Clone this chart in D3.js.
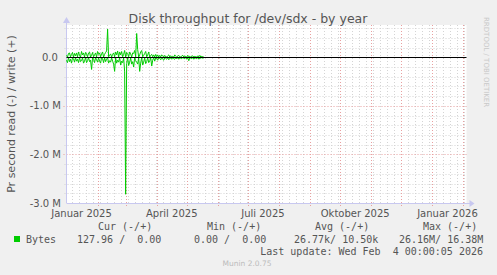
<!DOCTYPE html>
<html lang="de"><head>
<meta charset="utf-8">
<title>Disk throughput for /dev/sdx - by year</title>
<script src="https://cdn.jsdelivr.net/npm/d3@7/dist/d3.min.js"></script>
<style>
body { margin: 0; background: #f0f0f0; }
text { font-family: "DejaVu Sans", sans-serif; }
.mono { font-family: "DejaVu Sans Mono", monospace; white-space: pre; }
</style>
</head>
<body>
<script type="text/javascript">

// daily averages from 2025-01-01, in kB/s
var writeK = [40,5,80,90,10,60,100,5,80,30,
    90,10,110,40,5,120,50,90,5,100,
    70,10,90,110,5,40,100,10,50,90,
    5,120,60,90,10,70,110,5,60,100,
    130,580,10,40,70,5,60,90,10,110,
    50,130,5,110,50,120,10,60,140,5,
    100,80,10,110,70,5,90,80,140,10,
    490,160,5,50,110,140,10,40,80,120,
    10,50,110,5,40,60,10,50,5,60,
    10,50,5,40,10,50,30,5,40,10,
    5,30,50,5,30,10,20,5,50,20,
    5,20,40,10,5,30,40,5,30,10,
    5,40,10,20,5,20,30,5,20,10,
    5,30,10,40,5,20,10,5];
var readK = [60,110,5,90,40,120,10,30,100,5,
    80,40,110,5,90,70,10,120,80,5,
    110,70,5,90,60,250,10,40,110,5,
    50,100,10,80,120,5,30,110,10,90,
    40,5,120,70,100,10,80,140,290,5,
    120,60,100,5,160,80,110,10,300,2820,
    130,5,170,100,10,140,90,200,5,70,
    100,140,10,290,120,5,160,100,10,130,
    90,5,110,70,10,180,60,5,80,10,
    30,60,5,20,50,5,40,60,10,20,
    40,5,50,20,10,40,5,30,40,10,
    30,5,40,10,20,30,5,20,30,5,
    40,10,70,5,20,30,5,40,10,20,
    30,5,40,10,20,5,20,10];

var yTicks = [0, -1e6, -2e6, -3e6];
var yTickLabels = ["0.0 ", "-1.0 M", "-2.0 M", "-3.0 M"];
var xTickLabels = ["Januar 2025", "April 2025", "Juli 2025", "Oktober 2025", "Januar 2026"];

var legendHead = ["Cur (-/+)", "Min (-/+)", "Avg (-/+)", "Max (-/+)"];
var legendVals = ["127.96 /  0.00", "0.00 /  0.00", "26.77k/ 10.50k", "26.16M/ 16.38M"];

var width = 497, height = 275;
var pLeft = 66.5, pRight = 466.5, pTop = 25, pBottom = 203;

var svg = d3.select("body").append("svg")
    .attr("width", width)
    .attr("height", height);

svg.append("rect").attr("width", width).attr("height", height).attr("fill", "#f0f0f0");

var start = new Date(2025, 0, 1);
var end = new Date(2026, 1, 4);
var x = d3.scaleTime().domain([start, end]).range([pLeft, pRight]);
var y = d3.scaleLinear().domain([-3.0e6, 0.665e6]).range([pBottom, pTop]);

svg.append("rect")
    .attr("x", pLeft).attr("y", pTop)
    .attr("width", pRight - pLeft).attr("height", pBottom - pTop)
    .attr("fill", "#ffffff");

// minor grid
var weeks = d3.timeMonday.range(start, end);
svg.selectAll(".wk").data(weeks).enter().append("line")
    .attr("x1", d => Math.round(x(d)) + 0.5).attr("x2", d => Math.round(x(d)) + 0.5)
    .attr("y1", pTop).attr("y2", pBottom + 2)
    .attr("stroke", "#d4d4d4").attr("stroke-dasharray", "1,2");

var yMinor = d3.range(-2.8e6, 0.7e6, 0.2e6).filter(v => Math.abs(Math.round(v) % 1e6) > 1);
svg.selectAll(".ym").data(yMinor).enter().append("line")
    .attr("x1", pLeft - 2).attr("x2", pRight)
    .attr("y1", d => Math.round(y(d)) + 0.5).attr("y2", d => Math.round(y(d)) + 0.5)
    .attr("stroke", "#d4d4d4").attr("stroke-dasharray", "1,2");

// major grid
var months = d3.timeMonth.range(d3.timeDay.offset(start, 1), end);
svg.selectAll(".mo").data(months).enter().append("line")
    .attr("x1", d => Math.round(x(d)) + 0.5).attr("x2", d => Math.round(x(d)) + 0.5)
    .attr("y1", pTop).attr("y2", pBottom + 3)
    .attr("stroke", "#e8a0a0").attr("stroke-dasharray", "1,2");

svg.selectAll(".yM").data([-1e6, -2e6]).enter().append("line")
    .attr("x1", pLeft - 3).attr("x2", pRight)
    .attr("y1", d => Math.round(y(d)) + 0.5).attr("y2", d => Math.round(y(d)) + 0.5)
    .attr("stroke", "#e8a0a0").attr("stroke-dasharray", "1,2");

// axes
var axisCol = "#c8c8f0";
svg.append("line").attr("x1", pLeft).attr("x2", pRight + 4)
    .attr("y1", pBottom + 0.5).attr("y2", pBottom + 0.5).attr("stroke", axisCol);
svg.append("line").attr("x1", pLeft).attr("x2", pLeft)
    .attr("y1", pBottom).attr("y2", pTop - 3).attr("stroke", axisCol);
svg.append("path").attr("d", "M" + (pRight + 3) + "," + (pBottom - 3) + "L" + (pRight + 8) + "," + (pBottom + 0.5) + "L" + (pRight + 3) + "," + (pBottom + 4) + "Z")
    .attr("fill", axisCol);
svg.append("path").attr("d", "M" + (pLeft - 3.5) + "," + (pTop - 2) + "L" + pLeft + "," + (pTop - 8) + "L" + (pLeft + 3.5) + "," + (pTop - 2) + "Z")
    .attr("fill", axisCol);

// data
var days = d3.range(writeK.length).map(i => d3.timeDay.offset(start, i));
var line = d3.line().x(d => x(d[0])).y(d => y(d[1]));
svg.append("path")
    .attr("d", line(days.map((d, i) => [d, writeK[i] * 1000])))
    .attr("fill", "none").attr("stroke", "#00cc00").attr("stroke-width", 1);
svg.append("path")
    .attr("d", line(days.map((d, i) => [d, -readK[i] * 1000])))
    .attr("fill", "none").attr("stroke", "#00cc00").attr("stroke-width", 1);

// zero line
svg.append("line").attr("x1", pLeft).attr("x2", pRight)
    .attr("y1", Math.round(y(0)) + 0.5).attr("y2", Math.round(y(0)) + 0.5)
    .attr("stroke", "#000000");

// y labels
svg.selectAll(".yl").data(yTicks).enter().append("text")
    .attr("class", "yl")
    .attr("x", 61).attr("y", d => y(d) + 3.5)
    .attr("text-anchor", "end")
    .style("white-space", "pre")
    .attr("font-size", "10px").attr("fill", "#555")
    .text((d, i) => yTickLabels[i]);

// x labels
var labelDates = d3.timeMonth.every(3).range(start, end);
svg.selectAll(".xl").data(labelDates).enter().append("text")
    .attr("x", d => x(d3.timeDay.offset(d, 15)))
    .attr("y", 216.5)
    .attr("text-anchor", "middle")
    .attr("font-size", "10px").attr("fill", "#555")
    .text((d, i) => xTickLabels[i]);

// title
svg.append("text").attr("x", 248).attr("y", 23).attr("text-anchor", "middle")
    .attr("font-size", "12.5px").attr("fill", "#555")
    .text("Disk throughput for /dev/sdx - by year");

svg.append("text")
    .attr("transform", "translate(15," + ((pTop + pBottom) / 2) + ") rotate(-90)")
    .attr("text-anchor", "middle")
    .attr("font-size", "11px").attr("fill", "#555")
    .text("Pr second read (-) / write (+)");

svg.append("text")
    .attr("transform", "translate(484,17) rotate(90)")
    .attr("font-size", "7px").attr("fill", "#c8c8c8")
    .text("RRDTOOL / TOBI OETIKER");

// legend
var headX = [98, 207, 315, 423];
svg.selectAll(".lh").data(legendHead).enter().append("text")
    .attr("class", "mono")
    .attr("x", (d, i) => headX[i]).attr("y", 230)
    .attr("font-size", "10px").attr("fill", "#555")
    .text(d => d);

svg.append("rect").attr("x", 14).attr("y", 236).attr("width", 6).attr("height", 6)
    .attr("fill", "#00cc00");
svg.append("text").attr("class", "mono").attr("x", 26).attr("y", 242.5)
    .attr("font-size", "10px").attr("fill", "#555").text("Bytes");

var valX = [77, 194, 294, 399];
svg.selectAll(".lv").data(legendVals).enter().append("text")
    .attr("class", "mono")
    .attr("x", (d, i) => valX[i]).attr("y", 242.5)
    .attr("font-size", "10px").attr("fill", "#555")
    .text(d => d);

svg.append("text").attr("class", "mono").attr("x", 483).attr("y", 254.5)
    .attr("text-anchor", "end")
    .attr("font-size", "10px").attr("fill", "#555")
    .text("Last update: Wed Feb  4 00:00:05 2026");

svg.append("text").attr("x", 247).attr("y", 266).attr("text-anchor", "middle")
    .attr("font-size", "7.5px").attr("fill", "#bbbbbb")
    .text("Munin 2.0.75");

</script>
</body></html>
